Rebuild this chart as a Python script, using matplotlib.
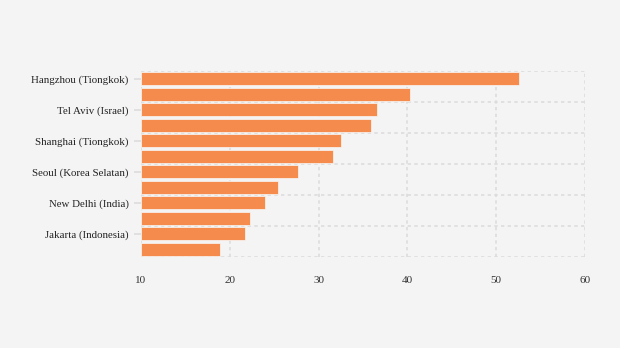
import matplotlib
matplotlib.use("Agg")
import matplotlib.pyplot as plt
import numpy as np

cities = ["Hangzhou (Tiongkok)", "", "Tel Aviv (Israel)", "", "Shanghai (Tiongkok)", "",
          "Seoul (Korea Selatan)", "", "New Delhi (India)", "", "Jakarta (Indonesia)", ""]
values = [52.6, 40.3, 36.6, 35.9, 32.5, 31.6, 27.7, 25.4, 24.0, 22.3, 21.7, 18.9]
xticks = [10, 20, 30, 40, 50, 60]

bg = "#f4f4f4"
fig = plt.figure(figsize=(6.2, 3.48), dpi=100, facecolor=bg)
ax = fig.add_axes([141/620, 1-257/348, (585-141)/620, (257-71)/348])
ax.set_facecolor(bg)

y = np.arange(len(values))
ax.barh(y, np.array(values) - 10, left=10, height=0.86, color="#f58b4c",
        edgecolor="#f8f8f8", linewidth=0.5, zorder=3)

ax.set_xlim(10, 60)
ax.set_ylim(len(values) - 0.5, -0.5)
ax.set_xticks(xticks)
ax.set_xticklabels([str(t) for t in xticks], family="Liberation Serif", fontsize=8, color="#333333")
ax.set_yticks(y[::2])
ax.set_yticklabels(cities[::2], family="Liberation Serif", fontsize=7.8, color="#222222")

grid_kw = dict(color="#dcdcdc", linestyle=(0, (2, 2)), linewidth=1.2, zorder=1)
for xv in xticks:
    ax.axvline(xv, **grid_kw)
for yv in np.arange(-0.5, len(values), 2):
    ax.axhline(yv, **grid_kw)

for s in ax.spines.values():
    s.set_visible(False)
ax.tick_params(axis="x", length=0, pad=14)
ax.tick_params(axis="y", length=5, color="#dddddd", width=1.2, pad=4)

fig.savefig("out.png", dpi=100, facecolor=bg)
